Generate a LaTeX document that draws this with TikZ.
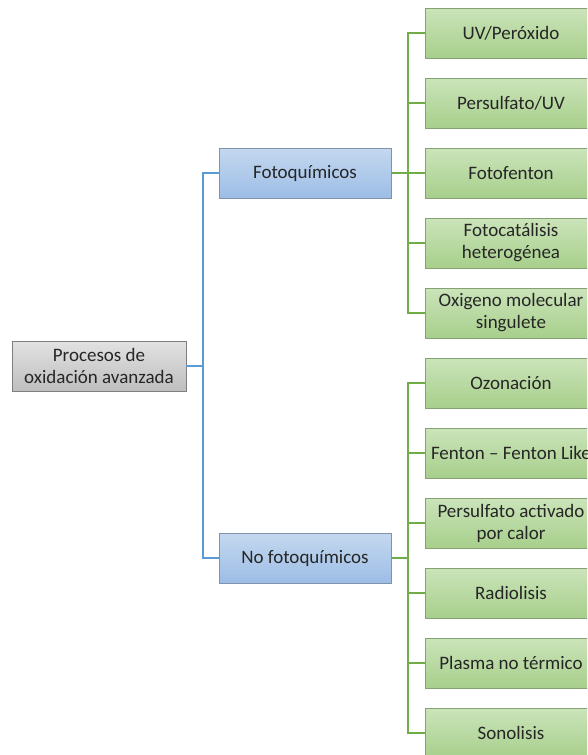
\documentclass[tikz,border=0pt]{standalone}
\usepackage{fontspec}
\setmainfont{Carlito}
\usetikzlibrary{positioning}

\definecolor{lineaazul}{HTML}{5B9BD5}
\definecolor{lineaverde}{HTML}{70AD47}
\definecolor{bordeazul}{HTML}{7F93AC}
\definecolor{bordeverde}{HTML}{86A174}
\definecolor{bordegris}{HTML}{7F7F7F}
\definecolor{texto}{HTML}{262626}
\definecolor{azulclaro}{HTML}{C4D8EF}
\definecolor{azuloscuro}{HTML}{9DBDE6}
\definecolor{verdeclaro}{HTML}{CBE4BA}
\definecolor{verdeoscuro}{HTML}{A7CF8B}
\definecolor{grisclaro}{HTML}{E2E2E2}
\definecolor{grisoscuro}{HTML}{BEBEBE}

\begin{document}
\begin{tikzpicture}[
  x=1pt, y=-1pt,
  node distance=19.2pt,
  caja/.style={draw, minimum height=50pt, align=center, line width=0.8pt,
    font=\fontsize{19}{22}\selectfont, text=texto},
  raiz/.style={caja, minimum width=174pt, draw=bordegris,
    top color=grisclaro, bottom color=grisoscuro},
  grupo/.style={caja, minimum width=172pt, draw=bordeazul,
    top color=azulclaro, bottom color=azuloscuro},
  metodo/.style={caja, minimum width=172pt, draw=bordeverde,
    top color=verdeclaro, bottom color=verdeoscuro},
  rama/.style={line width=1.8pt, to path={-- ++(16.5pt,0) |- (\tikztotarget.west)}}
]

\clip (0,0) rectangle (587,755);

\node[raiz] (pao) at (99,366) {Procesos de\\oxidación avanzada};
\node[grupo] (foto) at (305,173) {Fotoquímicos};
\node[grupo] (nofoto) at (305,558) {No fotoquímicos};

% fotoquimicos
\node[metodo] (uvper) at (511,33) {UV/Peróxido};
\node[metodo, below=of uvper] (psuv) {Persulfato/UV};
\node[metodo, below=of psuv] (ffent) {Fotofenton};
\node[metodo, below=of ffent] (fcat) {Fotocatálisis\\heterogénea};
\node[metodo, below=of fcat] (oxmol) {Oxigeno molecular\\singulete};

% no fotoquimicos
\node[metodo, below=of oxmol] (ozon) {Ozonación};
\node[metodo, below=of ozon] (fent) {Fenton -- Fenton Like};
\node[metodo, below=of fent] (pscal) {Persulfato activado\\por calor};
\node[metodo, below=of pscal] (radio) {Radiolisis};
\node[metodo, below=of radio] (plasma) {Plasma no térmico};
\node[metodo, below=of plasma] (sono) {Sonolisis};

\path (pao.east) edge[rama, lineaazul] (foto)
(pao.east) edge[rama, lineaazul] (nofoto);

\foreach \m in {uvper,psuv,ffent,fcat,oxmol}
  \path (foto.east) edge[rama, lineaverde] (\m);
\foreach \m in {ozon,fent,pscal,radio,plasma,sono}
  \path (nofoto.east) edge[rama, lineaverde] (\m);

\end{tikzpicture}
\end{document}
